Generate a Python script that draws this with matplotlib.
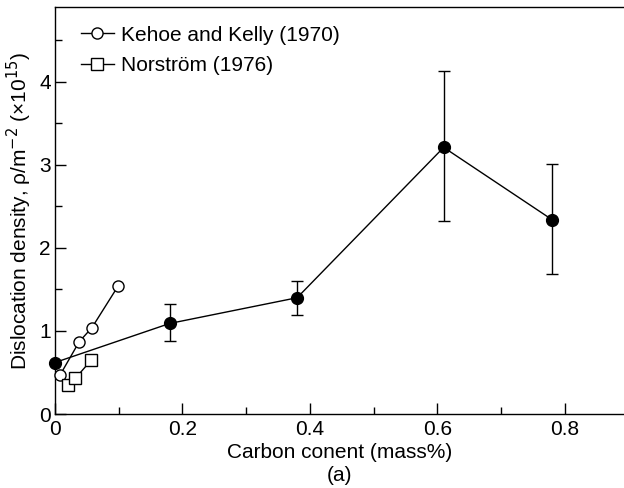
import matplotlib
matplotlib.use("Agg")
import matplotlib.pyplot as plt
from matplotlib.ticker import MultipleLocator

plt.rcParams['font.family'] = ['Liberation Sans', 'DejaVu Sans']

# Main data (filled circles with error bars)
main_x = [0.0, 0.18, 0.38, 0.61, 0.78]
main_y = [0.62, 1.09, 1.40, 3.21, 2.34]
main_lo = [0.62, 0.88, 1.19, 2.32, 1.68]
main_hi = [0.62, 1.32, 1.60, 4.13, 3.01]

# Kehoe and Kelly (1970)
kk_x = [0.008, 0.038, 0.058, 0.099]
kk_y = [0.47, 0.87, 1.04, 1.54]

# Norström (1976)
no_x = [0.021, 0.032, 0.057]
no_y = [0.35, 0.43, 0.65]

FS = 15

fig = plt.figure(figsize=(6.24, 4.88), dpi=100)
ax = fig.add_axes([55/624, (488-414)/488, (624-55)/624, (414-7)/488])

yerr = [[y - lo for y, lo in zip(main_y, main_lo)], [hi - y for y, hi in zip(main_y, main_hi)]]
eb = ax.errorbar(main_x, main_y, yerr=yerr, fmt='o-', color='black', ms=8.5,
                 lw=1.0, elinewidth=1.0, capsize=4, capthick=1.0, zorder=3)
eb[0].set_clip_on(False)
l1, = ax.plot(kk_x, kk_y, 'o-', color='black', mfc='white', ms=8, lw=1.0, mew=1.0,
              label='Kehoe and Kelly (1970)', zorder=4)
l2, = ax.plot(no_x, no_y, 's-', color='black', mfc='white', ms=8, lw=1.0, mew=1.0,
              label='Norström (1976)', zorder=4)
l1.set_clip_on(False)
l2.set_clip_on(False)

ax.set_xlim(0, 0.893)
ax.set_ylim(0, 4.9)
ax.xaxis.set_minor_locator(MultipleLocator(0.1))
ax.yaxis.set_major_locator(MultipleLocator(1))
ax.yaxis.set_minor_locator(MultipleLocator(0.5))
ax.set_xticks([0, 0.2, 0.4, 0.6, 0.8])
ax.set_xticklabels(['0', '0.2', '0.4', '0.6', '0.8'])
ax.tick_params(which='major', direction='in', length=8, width=1.0, labelsize=FS)
ax.tick_params(which='minor', direction='in', length=5, width=1.0)
ax.tick_params(axis='x', pad=4)
ax.tick_params(axis='y', pad=3)

ax.spines['right'].set_visible(False)
for s in ['left', 'bottom', 'top']:
    ax.spines[s].set_linewidth(1.0)

ax.set_xlabel('Carbon conent (mass%)\n(a)', fontsize=FS, labelpad=3, linespacing=1.3)
ax.set_ylabel(r'Dislocation density, ρ/m$^{-2}$ (×10$^{15}$)', fontsize=FS, labelpad=4)

ax.legend(loc='upper left', frameon=False, fontsize=FS, handlelength=1.6,
          handletextpad=0.35, borderaxespad=0.5, labelspacing=0.55,
          bbox_to_anchor=(0.012, 1.0))

fig.savefig('out.png', dpi=100)
